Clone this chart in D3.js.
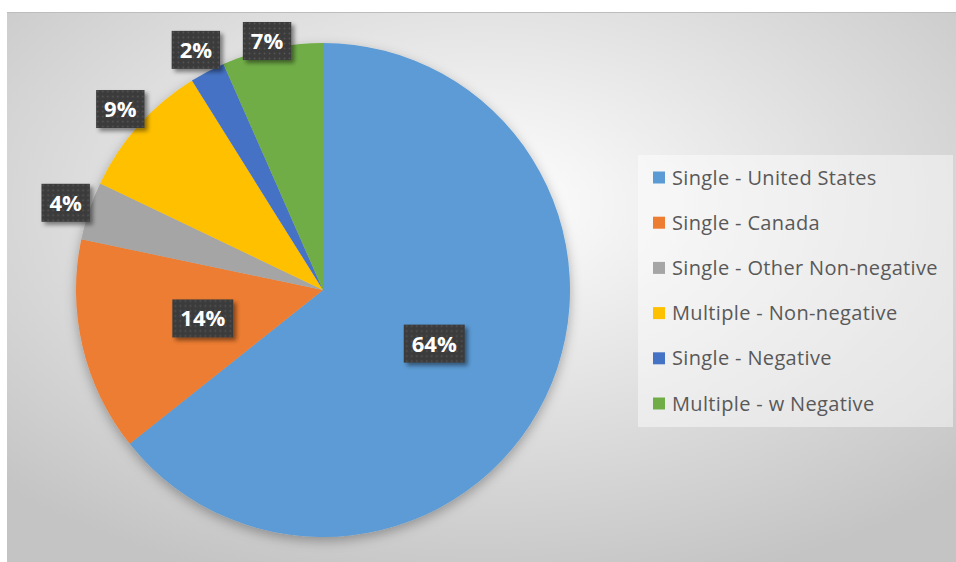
<!DOCTYPE html>
<html>
<head>
<meta charset="utf-8">
<script src="https://cdn.jsdelivr.net/npm/d3@7"></script>
<style>
  html, body { margin: 0; padding: 0; background: #ffffff; }
  svg { display: block; }
</style>
</head>
<body>
<svg id="chart" width="956" height="562"></svg>
<script>
// ---- data ----
const categories = ["Single - United States", "Single - Canada", "Single - Other Non-negative",
                    "Multiple - Non-negative", "Single - Negative", "Multiple - w Negative"];
const values = [64.3, 14.0, 3.8, 9.0, 2.3, 6.6];
const colors = ["#5B9BD5", "#ED7D31", "#A5A5A5", "#FFC000", "#4472C4", "#70AD47"];

// ---- layout ----
const W = 956, H = 562;
const frame = { x: 7, y: 12, w: 949, h: 550 };
const cx = 323, cy = 290, R = 247;

const svg = d3.select("#chart");
const defs = svg.append("defs");

// background gradient
const bg = defs.append("radialGradient").attr("id", "bgGrad")
  .attr("cx", 0.5).attr("cy", 0.35).attr("r", 0.72);
bg.append("stop").attr("offset", "0%").attr("stop-color", "#ffffff");
bg.append("stop").attr("offset", "100%").attr("stop-color", "#c4c4c4");

// pie shadow
const ps = defs.append("filter").attr("id", "pieShadow")
  .attr("x", "-20%").attr("y", "-20%").attr("width", "140%").attr("height", "140%");
ps.append("feDropShadow").attr("dx", 0).attr("dy", 4).attr("stdDeviation", 6)
  .attr("flood-color", "#000").attr("flood-opacity", 0.3);

// label shadow
const ls = defs.append("filter").attr("id", "lblShadow")
  .attr("x", "-30%").attr("y", "-30%").attr("width", "160%").attr("height", "160%");
ls.append("feDropShadow").attr("dx", 3).attr("dy", 3).attr("stdDeviation", 2)
  .attr("flood-color", "#000").attr("flood-opacity", 0.45);

// dotted label texture
const pat = defs.append("pattern").attr("id", "dots")
  .attr("patternUnits", "userSpaceOnUse").attr("width", 5).attr("height", 5);
pat.append("rect").attr("width", 5).attr("height", 5).attr("fill", "#3b3b3b");
pat.append("circle").attr("cx", 2.5).attr("cy", 2.5).attr("r", 0.9).attr("fill", "#555555");

// chart frame
svg.append("rect").attr("x", frame.x).attr("y", frame.y)
  .attr("width", frame.w).attr("height", frame.h).attr("fill", "url(#bgGrad)");
svg.append("line").attr("x1", frame.x).attr("x2", frame.x + frame.w)
  .attr("y1", frame.y + 0.5).attr("y2", frame.y + 0.5)
  .attr("stroke", "#bdbdbd").attr("stroke-width", 1);

// pie
const total = d3.sum(values);
const pie = d3.pie().sort(null).value(d => d);
const arcs = pie(values);
const arc = d3.arc().innerRadius(0).outerRadius(R);
const color = d3.scaleOrdinal().domain(categories).range(colors);

const g = svg.append("g").attr("transform", `translate(${cx},${cy})`);
g.append("g").attr("filter", "url(#pieShadow)")
  .selectAll("path").data(arcs).join("path")
  .attr("d", arc)
  .attr("fill", (d, i) => color(categories[i]));

// labels
const inArc = d3.arc().innerRadius(0).outerRadius(R);
const outArc = d3.arc().innerRadius(R * 1.1).outerRadius(R * 1.1);
const lblG = svg.append("g");
arcs.forEach((d, i) => {
  const pct = d.value / total * 100;
  const txt = Math.round(pct) + "%";
  let [x, y] = pct >= 10 ? inArc.centroid(d) : outArc.centroid(d);
  x += cx; y += cy;
  const bh = 38;
  // keep label within the chart area
  y = Math.max(y, frame.y + 10 + bh / 2);
  const lg = lblG.append("g").attr("transform", `translate(${x},${y})`);
  const rect = lg.append("rect").attr("fill", "url(#dots)").attr("filter", "url(#lblShadow)");
  const t = lg.append("text")
    .attr("text-anchor", "middle").attr("dy", "0.36em")
    .attr("font-family", "'Open Sans', sans-serif").attr("font-weight", "bold")
    .attr("font-size", 22).attr("fill", "#ffffff").text(txt);
  const tw = t.node().getComputedTextLength();
  const bw = tw + 16;
  rect.attr("x", -bw / 2).attr("y", -bh / 2).attr("width", bw).attr("height", bh);
});

// legend
const leg = { x: 638, y: 155, w: 315, h: 272 };
svg.append("rect").attr("x", leg.x).attr("y", leg.y).attr("width", leg.w).attr("height", leg.h)
  .attr("fill", "#ffffff").attr("fill-opacity", 0.45);
const ly = d3.scalePoint().domain(categories).range([177.5, 403.5]);
const li = svg.append("g").selectAll("g").data(categories).join("g")
  .attr("transform", d => `translate(653,${ly(d)})`);
li.append("rect").attr("x", 0).attr("y", -6).attr("width", 12).attr("height", 12)
  .attr("fill", d => color(d));
li.append("text").attr("x", 19).attr("dy", "0.35em")
  .attr("font-family", "'Open Sans', sans-serif").attr("font-size", 20)
  .attr("letter-spacing", 0.35)
  .attr("fill", "#595959").text(d => d);
</script>
</body>
</html>
